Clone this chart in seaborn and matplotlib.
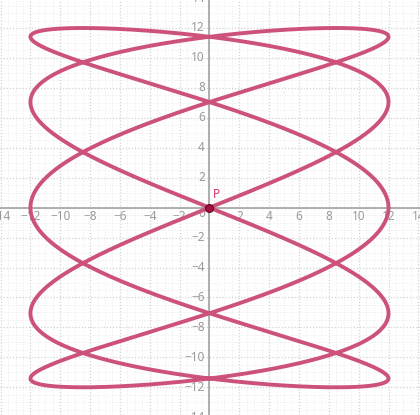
import numpy as np
import pandas as pd
import matplotlib
matplotlib.use("Agg")
import matplotlib.pyplot as plt
from matplotlib.transforms import offset_copy
import seaborn as sns

# ---- data ----
amplitude_x = 12.0
amplitude_y = 12.0
freq_x = 5
freq_y = 2
point_label = ["P"]
point_x = [0.0]
point_y = [0.0]
x_tick_values = [-14, -12, -10, -8, -6, -4, -2, 2, 4, 6, 8, 10, 12, 14]
y_tick_values = [-14, -12, -10, -8, -6, -4, -2, 2, 4, 6, 8, 10, 12, 14]

t = np.linspace(0, 2 * np.pi, 3001)
curve = pd.DataFrame({
    "t": t,
    "x": amplitude_x * np.sin(freq_x * t),
    "y": amplitude_y * np.sin(freq_y * t),
})
points = pd.DataFrame({"x": point_x, "y": point_y, "name": point_label})

sns.set_style("white")
plt.rcParams["font.family"] = ["Noto Sans", "DejaVu Sans"]

fig = plt.figure(figsize=(4.2, 4.15), dpi=100)
ax = fig.add_axes([0, 0, 1, 1])
ax.set_xlim(-14.04, 14.11)
ax.set_ylim(-13.85, 13.87)
for s in ax.spines.values():
    s.set_visible(False)
ax.set_xticks([])
ax.set_yticks([])

# grid
for v in np.arange(-14, 14.51, 0.5):
    major = abs(v / 2 - round(v / 2)) < 1e-9
    col = "#d4d4d4" if major else "#ececec"
    lw = 0.9 if major else 0.7
    ax.axvline(v, color=col, lw=lw, ls=(0, (1, 1.5)), zorder=0)
    ax.axhline(v, color=col, lw=lw, ls=(0, (1, 1.5)), zorder=0)

# axes lines
ax.axhline(0, color="#a8a8a8", lw=1.3, zorder=1)
ax.axvline(0, color="#a8a8a8", lw=1.3, zorder=1)

# tick labels
lab_col = "#9a9a9a"
fs = 8.5
def fmt(v):
    return ("\u2212" + str(abs(v))) if v < 0 else str(v)
tx = offset_copy(ax.transData, fig=fig, x=0, y=-8.5, units="dots")
for v in x_tick_values:
    ax.text(v, 0, fmt(v), transform=tx, ha="center", va="center",
            color=lab_col, fontsize=fs, zorder=2)
ty = offset_copy(ax.transData, fig=fig, x=-4.5, y=0, units="dots")
for v in y_tick_values:
    ax.text(0, v, fmt(v), transform=ty, ha="right", va="center",
            color=lab_col, fontsize=fs, zorder=2)
t0 = offset_copy(ax.transData, fig=fig, x=-8, y=-6, units="dots")
ax.text(0, 0, "0", transform=t0, ha="center", va="center",
        color=lab_col, fontsize=fs, zorder=2)

# curve
sns.lineplot(data=curve, x="x", y="y", sort=False, estimator=None,
             color="#cc527a", lw=2.8, ax=ax, zorder=3)

# point P
sns.scatterplot(data=points, x="x", y="y", s=32, color="#a8103c",
                edgecolor="#5a0a20", linewidth=0.8, ax=ax, zorder=4)
tp = offset_copy(ax.transData, fig=fig, x=3, y=7, units="dots")
for _, r in points.iterrows():
    ax.text(r["x"], r["y"], r["name"], transform=tp, ha="left", va="bottom",
            color="#d0336a", fontsize=8.5, zorder=5)

ax.set_xlabel("")
ax.set_ylabel("")
ax.set_xlim(-14.04, 14.11)
ax.set_ylim(-13.85, 13.87)
fig.savefig("out.png", dpi=100)
